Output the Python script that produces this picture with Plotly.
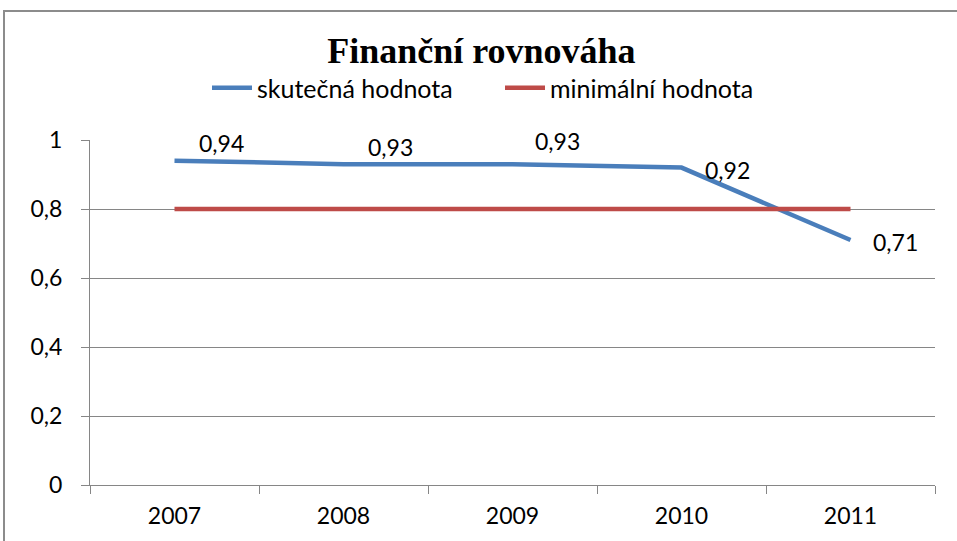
import plotly.graph_objects as go

years = ["2007", "2008", "2009", "2010", "2011"]
skutecna = [0.94, 0.93, 0.93, 0.92, 0.71]
minimalni = [0.80, 0.80, 0.80, 0.80, 0.80]
label_text = ["0,94", "0,93", "0,93", "0,92", "0,71"]

# label placement offsets in px (styling only)
label_dx = [47, 47, 45, 46, 45]
label_dy = [18, 17, 23, -2, -2]

FONT = "Lato"
PL, PT, PW, PH = 90, 140, 845, 345  # plot area in px


def px_x(px):
    return (px - PL) / PW


def px_y(py):
    return (PT + PH - py) / PH


fig = go.Figure()
fig.add_trace(go.Scatter(x=years, y=skutecna, mode="lines", name="skutečná hodnota",
                         line=dict(color="#4A7EBB", width=4.5), legend="legend"))
fig.add_trace(go.Scatter(x=years, y=minimalni, mode="lines", name="minimální hodnota",
                         line=dict(color="#BE4B48", width=4.5), legend="legend2"))

for i, (y, t, dx, dy) in enumerate(zip(skutecna, label_text, label_dx, label_dy)):
    fig.add_annotation(x=i, y=y, xref="x", yref="y", text=t, showarrow=False,
                       xshift=dx, yshift=dy,
                       font=dict(family=FONT, size=23, color="#000000"))

# outer chart frame
fig.add_shape(type="rect", xref="paper", yref="paper",
              x0=px_x(4), x1=px_x(975), y0=px_y(560), y1=px_y(11),
              line=dict(color="#8C8C8C", width=2), fillcolor="rgba(0,0,0,0)", layer="below")

leg_common = dict(orientation="h", yanchor="middle", y=px_y(88), xanchor="left",
                  font=dict(family=FONT, size=25, color="#000000"),
                  itemwidth=40, bgcolor="rgba(0,0,0,0)", borderwidth=0)

fig.update_layout(
    width=957, height=541,
    margin=dict(l=PL, r=957 - PL - PW, t=PT, b=541 - PT - PH),
    paper_bgcolor="white", plot_bgcolor="white",
    separators=", ",
    title=dict(text="<b>Finanční rovnováha</b>", x=0.503, xanchor="center",
               y=1 - 50 / 541, yanchor="middle",
               font=dict(family="Liberation Serif", size=36, color="#000000")),
    legend=dict(x=px_x(207), **leg_common),
    legend2=dict(x=px_x(500), **leg_common),
    showlegend=True,
    xaxis=dict(type="category", showgrid=False, showline=True, linecolor="#868686", linewidth=1,
               ticks="outside", tickson="boundaries", ticklen=8, tickcolor="#868686",
               ticklabelstandoff=10,
               tickfont=dict(family=FONT, size=23, color="#000000"), range=[-0.5, 4.5],
               fixedrange=True),
    yaxis=dict(range=[0, 1], dtick=0.2, showgrid=True, gridcolor="#868686", gridwidth=1,
               showline=True, linecolor="#868686", linewidth=1, ticks="outside", ticklen=8,
               tickcolor="#868686", zeroline=False, ticklabelstandoff=14,
               tickfont=dict(family=FONT, size=23, color="#000000"), fixedrange=True),
)

fig.write_html("out.html", config=dict(displayModeBar=False),
               post_script="document.body.style.margin='0px';")
